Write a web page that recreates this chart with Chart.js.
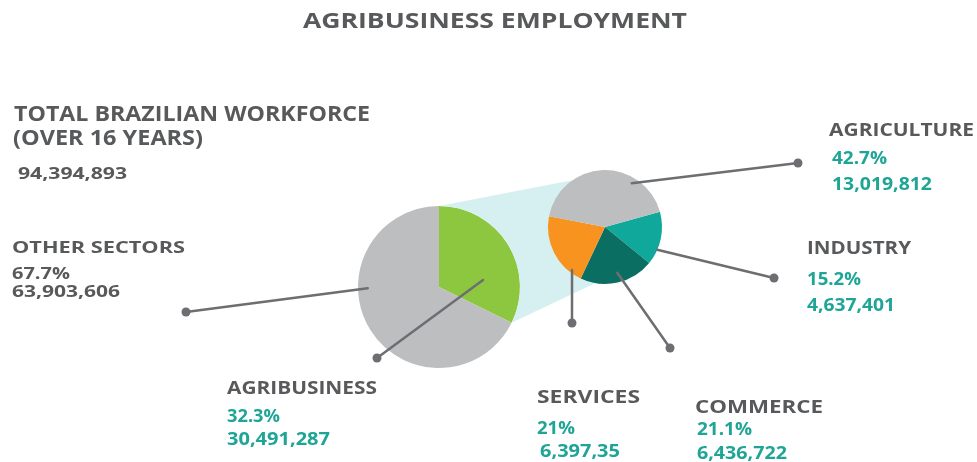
<!DOCTYPE html>
<html>
<head>
<meta charset="utf-8">
<title>Agribusiness Employment</title>
<script src="https://cdn.jsdelivr.net/npm/chart.js@4.4.1/dist/chart.umd.min.js"></script>
<style>
    html, body { margin: 0; padding: 0; background: #fff; }
    #wrap { position: relative; width: 977px; height: 462px; overflow: hidden;
            font-family: 'Open Sans', 'Noto Sans', sans-serif; font-weight: 700; }
    #wrap canvas { position: absolute; left: 0; top: 0; }
    .lbl { position: absolute; line-height: 1; white-space: nowrap; transform-origin: 0 0; color: #58595b; }
    .teal { color: #1fa596; }
</style>
</head>
<body>
<div id="wrap">
    <canvas id="mainPie" width="977" height="462"></canvas>
    <canvas id="agroPie" width="977" height="462"></canvas>
</div>
<script>
    // workforce split
    const mainLabels = ['AGRIBUSINESS', 'OTHER SECTORS'];
    const mainShares = [32.3, 67.7];
    const mainWorkers = ['30,491,287', '63,903,606'];
    const mainColors = ['#8dc63f', '#bcbec0'];

    // agribusiness breakdown
    const agroLabels = ['INDUSTRY', 'COMMERCE', 'SERVICES', 'AGRICULTURE'];
    const agroShares = [15.2, 21.1, 21, 42.7];
    const agroWorkers = ['4,637,401', '6,436,722', '6,397,35', '13,019,812'];
    const agroColors = ['#0fa89a', '#0b6e63', '#f7931e', '#bcbec0'];

    const chartTitle = 'AGRIBUSINESS EMPLOYMENT';
    const totalTitle = ['TOTAL BRAZILIAN WORKFORCE', '(OVER 16 YEARS)'];
    const totalWorkers = '94,394,893';

    // label blocks: left edge, cap top of each line, font size, box width of each line
    const blocks = {
        'AGRIBUSINESS':  { x: [227, 227, 227], y: [382, 410, 433], size: 17, w: [150, 53, 103] },
        'OTHER SECTORS': { x: [12, 12, 12],    y: [242, 268, 286], size: 16, w: [173, 58, 108], plain: true },
        'INDUSTRY':      { x: [807, 807, 807], y: [242, 273, 299], size: 17, w: [104, 54, 88] },
        'COMMERCE':      { x: [695, 697, 697], y: [401, 423, 447], size: 17, w: [128, 55, 90] },
        'SERVICES':      { x: [537, 537, 540], y: [391, 422, 445], size: 17, w: [103, 38, 80] },
        'AGRICULTURE':   { x: [829, 832, 832], y: [124, 152, 178], size: 17, w: [145, 55, 100] }
    };

    // leader lines: clock angle on the slice, fraction of radius, end dot
    const leaders = {
        'AGRIBUSINESS':  { at: 81,    r: 0.55, dot: [377, 358] },
        'OTHER SECTORS': { at: 269,   r: 0.88, dot: [186, 312] },
        'INDUSTRY':      { at: 113.5, r: 1.0,  dot: [774, 278] },
        'COMMERCE':      { at: 165,   r: 0.83, dot: [670, 348] },
        'SERVICES':      { at: 217.5, r: 0.95, dot: [572, 323] },
        'AGRICULTURE':   { at: 31.5,  r: 0.9,  dot: [798, 163] }
    };

    const wrap = document.getElementById('wrap');

    function addText(txt, x, capTop, size, width, cls) {
        const el = document.createElement('div');
        el.className = 'lbl' + (cls ? ' ' + cls : '');
        el.textContent = txt;
        el.style.left = x + 'px';
        el.style.top = (capTop - 0.174 * size) + 'px';
        el.style.fontSize = size + 'px';
        wrap.appendChild(el);
        const natural = el.getBoundingClientRect().width;
        if (width && natural) el.style.transform = `scaleX(${width / natural})`;
    }

    // point on a pie given a clock angle (degrees from 12 o'clock)
    function polar(arc, clockDeg, frac) {
        const a = (clockDeg - 90) * Math.PI / 180;
        return [arc.x + Math.cos(a) * arc.outerRadius * frac, arc.y + Math.sin(a) * arc.outerRadius * frac];
    }

    const baseOptions = {
        responsive: false,
        animation: false,
        events: [],
        plugins: { legend: { display: false }, tooltip: { enabled: false } }
    };

    const mainChart = new Chart(document.getElementById('mainPie'), {
        type: 'pie',
        data: {
            labels: mainLabels,
            datasets: [{ data: mainShares, backgroundColor: mainColors, borderWidth: 0 }]
        },
        options: {
            ...baseOptions,
            rotation: 0,
            layout: { padding: { left: 358, right: 457, top: 206, bottom: 94 } }
        }
    });

    const zoomBand = {
        id: 'zoomBand',
        beforeDatasetsDraw(chart) {
            const ctx = chart.ctx;
            const big = mainChart.getDatasetMeta(0).data[0];
            const small = chart.getDatasetMeta(0).data[0];
            const p1 = [big.x + Math.cos(big.startAngle) * big.outerRadius, big.y + Math.sin(big.startAngle) * big.outerRadius];
            const p4 = [big.x + Math.cos(big.endAngle) * big.outerRadius, big.y + Math.sin(big.endAngle) * big.outerRadius];
            const s1 = polar(small, -35, 1);
            const s2 = polar(small, 190, 1);
            ctx.save();
            // keep the band behind the big pie
            ctx.beginPath();
            ctx.rect(0, 0, chart.width, chart.height);
            ctx.arc(big.x, big.y, big.outerRadius, 0, Math.PI * 2);
            ctx.clip('evenodd');
            ctx.beginPath();
            ctx.moveTo(p1[0], p1[1]);
            ctx.lineTo(s1[0], s1[1]);
            ctx.lineTo(s2[0], s2[1]);
            ctx.lineTo(p4[0], p4[1]);
            ctx.closePath();
            ctx.fillStyle = '#d6eff0';
            ctx.fill();
            ctx.restore();
        },
        afterDatasetsDraw(chart) {
            const ctx = chart.ctx;
            const mainMeta = mainChart.getDatasetMeta(0).data[0];
            const agroMeta = chart.getDatasetMeta(0).data[0];
            ctx.save();
            ctx.strokeStyle = '#6d6e71';
            ctx.fillStyle = '#6d6e71';
            ctx.lineWidth = 2.5;
            ctx.lineCap = 'round';
            Object.keys(leaders).forEach(name => {
                const l = leaders[name];
                const arc = mainLabels.includes(name) ? mainMeta : agroMeta;
                const p = polar(arc, l.at, l.r);
                ctx.beginPath();
                ctx.moveTo(p[0], p[1]);
                ctx.lineTo(l.dot[0], l.dot[1]);
                ctx.stroke();
                ctx.beginPath();
                ctx.arc(l.dot[0], l.dot[1], 4.5, 0, Math.PI * 2);
                ctx.fill();
            });
            ctx.restore();
        }
    };

    const agroChart = new Chart(document.getElementById('agroPie'), {
        type: 'pie',
        data: {
            labels: agroLabels,
            datasets: [{ data: agroShares, backgroundColor: agroColors, borderWidth: 0 }]
        },
        options: {
            ...baseOptions,
            rotation: 74.5,
            layout: { padding: { left: 548, right: 315, top: 170, bottom: 178 } }
        },
        plugins: [zoomBand]
    });

    // texts
    addText(chartTitle, 303, 12, 22, 384);
    addText(totalTitle[0], 14, 107, 21, 356);
    addText(totalTitle[1], 13, 131, 21, 190);
    addText(totalWorkers, 18, 168, 16, 109);

    const addBlock = (name, share, workers) => {
        const b = blocks[name];
        const cls = b.plain ? '' : 'teal';
        addText(name, b.x[0], b.y[0], b.size, b.w[0]);
        addText(share + '%', b.x[1], b.y[1], b.size, b.w[1], cls);
        addText(workers, b.x[2], b.y[2], b.size, b.w[2], cls);
    };
    mainLabels.forEach((name, i) => addBlock(name, mainShares[i], mainWorkers[i]));
    agroLabels.forEach((name, i) => addBlock(name, agroShares[i], agroWorkers[i]));
</script>
</body>
</html>
